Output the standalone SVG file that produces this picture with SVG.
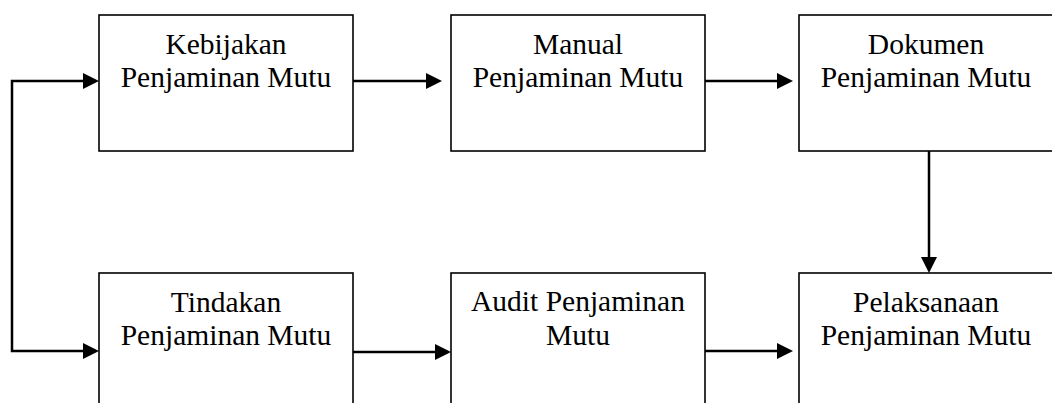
<svg xmlns="http://www.w3.org/2000/svg" width="1052" height="403" viewBox="0 0 1052 403">
<style>
.box{fill:#fff;stroke:#000;stroke-width:1.6}
.lbl{font-family:"Liberation Serif","Times New Roman",serif;font-size:29.5px;fill:#000;text-anchor:middle}
.con{fill:none;stroke:#000;stroke-width:2.5;marker-end:url(#ah)}
</style>
<defs>
<marker id="ah" markerUnits="userSpaceOnUse" markerWidth="17" markerHeight="17" refX="11" refY="8" orient="auto" viewBox="0 0 17 17">
<path d="M0,0 L16,8 L0,16 z" fill="#000"/>
</marker>
</defs>
<rect width="1052" height="403" fill="#fff"/>
<g id="n1"><rect class="box" x="99" y="15" width="254" height="136"/><text class="lbl" x="226" y="54">Kebijakan</text><text class="lbl" x="226" y="87">Penjaminan Mutu</text></g>
<g id="n2"><rect class="box" x="451" y="15" width="254" height="136"/><text class="lbl" x="578" y="54">Manual</text><text class="lbl" x="578" y="87">Penjaminan Mutu</text></g>
<g id="n3"><rect class="box" x="799" y="15" width="254" height="136"/><text class="lbl" x="926" y="54">Dokumen</text><text class="lbl" x="926" y="87">Penjaminan Mutu</text></g>
<g id="n4"><rect class="box" x="99" y="273" width="254" height="136"/><text class="lbl" x="226" y="312">Tindakan</text><text class="lbl" x="226" y="345">Penjaminan Mutu</text></g>
<g id="n5"><rect class="box" x="451" y="273" width="254" height="136"/><text class="lbl" x="578" y="311">Audit Penjaminan</text><text class="lbl" x="578" y="345">Mutu</text></g>
<g id="n6"><rect class="box" x="799" y="273" width="254" height="136"/><text class="lbl" x="926" y="312">Pelaksanaan</text><text class="lbl" x="926" y="345">Penjaminan Mutu</text></g>
<g id="connectors">
<path class="con" d="M353,81 H437"/>
<path class="con" d="M705,81 H788"/>
<path class="con" d="M929,151 V268"/>
<path class="con" d="M12,218 V81 H94"/>
<path class="con" d="M12,218 V351 H94"/>
<path class="con" d="M353,352 H446"/>
<path class="con" d="M705,351 H788"/>
</g>
</svg>
